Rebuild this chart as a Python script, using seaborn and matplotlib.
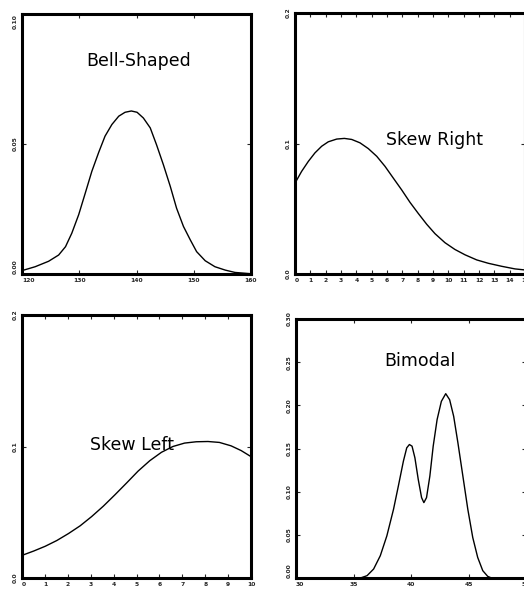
import numpy as np
import pandas as pd
import matplotlib
matplotlib.use("Agg")
import matplotlib.pyplot as plt
import seaborn as sns

# ---- data ----
bell_x = [120, 122.3, 124.65, 126.4, 127.6, 128.7, 129.9, 131.05, 132.2, 133.4, 134.5,
          135.7, 136.9, 138.0, 139.1, 140.1, 141.2, 142.4, 143.5, 144.7, 145.9, 147.0,
          148.2, 149.4, 150.5, 152.0, 153.7, 155.5, 157.2, 160]
bell_y = [0.0013, 0.0028, 0.0049, 0.0073, 0.0105, 0.0157, 0.0228, 0.0311, 0.0395, 0.0468,
          0.0530, 0.0575, 0.0607, 0.0622, 0.0627, 0.0622, 0.0600, 0.0562, 0.0497, 0.0420,
          0.0337, 0.0253, 0.0183, 0.0131, 0.0086, 0.0051, 0.0028, 0.0015, 0.0006, 0.0001]

right_x = [0, 0.43, 0.87, 1.30, 1.74, 2.17, 2.72, 3.22, 3.70, 4.24, 4.78, 5.33, 5.87,
           6.41, 6.96, 7.5, 8.04, 8.59, 9.13, 9.78, 10.43, 11.09, 11.85, 12.61, 13.48,
           14.35, 15.0]
right_y = [0.0696, 0.0786, 0.0863, 0.0928, 0.0979, 0.1013, 0.1034, 0.1039, 0.1031, 0.1005,
           0.0961, 0.0902, 0.0825, 0.0735, 0.0644, 0.0549, 0.0464, 0.0381, 0.0309, 0.0240,
           0.0188, 0.0147, 0.0108, 0.0082, 0.0059, 0.0039, 0.0031]

left_x = [0, 0.51, 1.01, 1.52, 2.03, 2.54, 3.04, 3.55, 4.06, 4.57, 5.07, 5.58, 6.09,
          6.59, 7.10, 7.61, 8.12, 8.62, 9.13, 9.57, 10.0]
left_y = [0.0172, 0.0205, 0.0241, 0.0285, 0.0338, 0.0397, 0.0467, 0.0546, 0.0633, 0.0723,
          0.0813, 0.0892, 0.0956, 0.1000, 0.1026, 0.1036, 0.1038, 0.1031, 0.1005, 0.0969,
          0.0923]

bi_x = [30, 35.6, 36.18, 36.75, 37.33, 37.9, 38.48, 38.9, 39.34, 39.63, 39.86, 40.09,
        40.34, 40.63, 40.92, 41.12, 41.35, 41.64, 41.93, 42.27, 42.64, 43.02, 43.36,
        43.71, 44.08, 44.51, 44.94, 45.37, 45.8, 46.24, 46.67, 47.0, 50]
bi_y = [0.0, 0.0, 0.0027, 0.0104, 0.0258, 0.0488, 0.0796, 0.1065, 0.1354, 0.1508, 0.1546,
        0.1527, 0.1392, 0.1142, 0.0931, 0.0873, 0.0931, 0.1181, 0.1527, 0.1835, 0.2046,
        0.2135, 0.2065, 0.1873, 0.1565, 0.1181, 0.0796, 0.0469, 0.0238, 0.0085, 0.0019,
        0.0, 0.0]

titles = ["Bell-Shaped", "Skew Right", "Skew Left", "Bimodal"]

sns.set_style("white")
plt.rcParams['font.family'] = ['DejaVu Sans']

W, H = 524, 592
fig = plt.figure(figsize=(W / 100, H / 100), dpi=100)

def px_axes(x0, y0, x1, y1):
    return fig.add_axes([x0 / W, 1 - y1 / H, (x1 - x0) / W, (y1 - y0) / H])

panels = [
    dict(box=(22, 14, 251, 274), x=bell_x, y=bell_y, xlim=(120, 160), ylim=(0, 0.1),
         xt=[120, 130, 140, 150, 160], yt=[0.0, 0.05, 0.10], yfmt="{:.2f}",
         tpos=(140.4, 0.082), yva=("bottom", "top")),
    dict(box=(295, 13, 525, 274), x=right_x, y=right_y, xlim=(0, 15), ylim=(0, 0.2),
         xt=list(range(0, 16)), yt=[0.0, 0.1, 0.2], yfmt="{:.1f}",
         tpos=(9.1, 0.1025), yva=("center", "center")),
    dict(box=(22, 315, 251, 578), x=left_x, y=left_y, xlim=(0, 10), ylim=(0, 0.2),
         xt=list(range(0, 11)), yt=[0.0, 0.1, 0.2], yfmt="{:.1f}",
         tpos=(4.8, 0.1015), yva=("center", "center")),
    dict(box=(296, 319, 526, 578), x=bi_x, y=bi_y, xlim=(30, 50), ylim=(0, 0.3),
         xt=[30, 35, 40, 45, 50], yt=[0.0, 0.05, 0.10, 0.15, 0.20, 0.25, 0.30], yfmt="{:.2f}",
         tpos=(40.8, 0.2515), yva=("bottom", "center")),
]

for p, title in zip(panels, titles):
    ax = px_axes(*p["box"])
    df = pd.DataFrame({"x": p["x"], "y": p["y"]})
    sns.lineplot(data=df, x="x", y="y", ax=ax, color="black", linewidth=1.0, sort=False)
    ax.set_xlim(*p["xlim"])
    ax.set_ylim(*p["ylim"])
    ax.set_xticks(p["xt"])
    xl = ax.set_xticklabels([str(v) for v in p["xt"]], fontsize=4.3, fontweight="bold")
    xl[0].set_ha("left")
    ax.set_yticks(p["yt"])
    yl = ax.set_yticklabels([p["yfmt"].format(v) for v in p["yt"]], fontsize=4.3,
                            fontweight="bold", rotation=90, va="center")
    yl[0].set_va(p["yva"][0])
    yl[-1].set_va(p["yva"][1])
    ax.set_xlabel("")
    ax.set_ylabel("")
    ax.tick_params(direction="in", length=3, width=0.8, top=True, right=True,
                   bottom=True, left=True, pad=3)
    for s in ax.spines.values():
        s.set_linewidth(2.2)
        s.set_color("black")
        s.set_visible(True)
    ax.text(p["tpos"][0], p["tpos"][1], title, ha="center", va="center",
            fontsize=12.5, color="black")

fig.savefig("out.png", dpi=100)
